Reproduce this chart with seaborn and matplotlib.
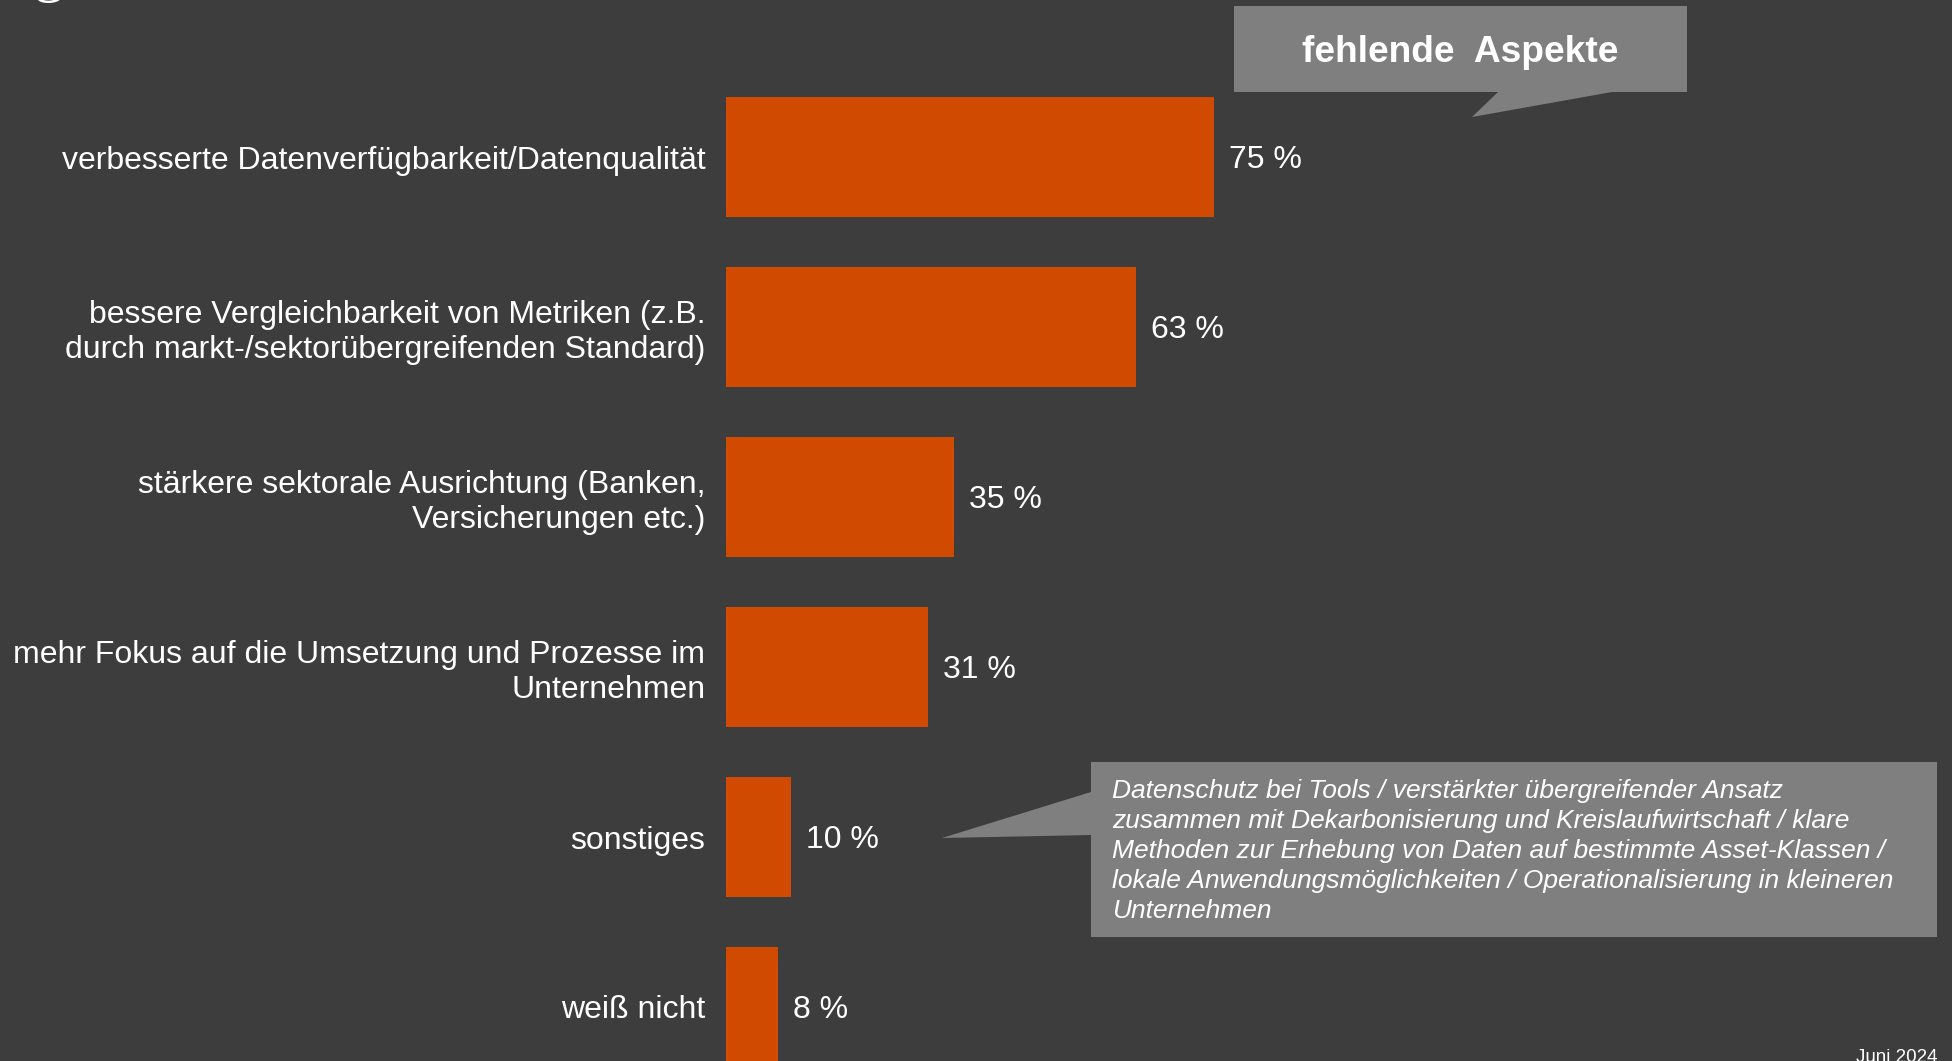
import matplotlib
matplotlib.use("Agg")
import matplotlib.pyplot as plt
import seaborn as sns
import pandas as pd
from matplotlib.patches import Polygon

categories = [
    "verbesserte Datenverfügbarkeit/Datenqualität",
    "bessere Vergleichbarkeit von Metriken (z.B.\ndurch markt-/sektorübergreifenden Standard)",
    "stärkere sektorale Ausrichtung (Banken,\nVersicherungen etc.)",
    "mehr Fokus auf die Umsetzung und Prozesse im\nUnternehmen",
    "sonstiges",
    "weiß nicht",
]
values = [75, 63, 35, 31, 10, 8]
value_labels = [f"{v} %" for v in values]

header_text = "fehlende  Aspekte"
callout_lines = [
    "Datenschutz bei Tools / verstärkter übergreifender Ansatz",
    "zusammen mit Dekarbonisierung und Kreislaufwirtschaft / klare",
    "Methoden zur Erhebung von Daten auf bestimmte Asset-Klassen /",
    "lokale Anwendungsmöglichkeiten / Operationalisierung in kleineren",
    "Unternehmen",
]
date_text = "Juni 2024"

BG = "#3d3d3d"
BAR = "#d04a02"
BOX = "#7f7f7f"
W, H = 1952, 1061

sns.set_theme(style="dark")
plt.rcParams["font.family"] = ["Liberation Sans", "DejaVu Sans"]

fig = plt.figure(figsize=(W / 100, H / 100), dpi=100, facecolor=BG)

# bar axes: value 0 at x=726px, 6.5 px per percent
x0 = 726
ax = fig.add_axes([x0 / W, 0, (W - x0) / W, 1])
ax.set_facecolor("none")
df = pd.DataFrame({"cat": categories, "val": values})
sns.barplot(data=df, x="val", y="cat", orient="h", color=BAR, saturation=1,
            width=120 / 170, linewidth=0, edgecolor="none", ax=ax)
ax.set_xlim(0, (W - x0) / 6.5)
ax.set_ylim((H - 157) / 170, -157 / 170)
ax.set_xlabel("")
ax.set_ylabel("")
ax.set_xticks([])
for s in ax.spines.values():
    s.set_visible(False)
ax.tick_params(axis="y", length=0, pad=15, labelsize=23, labelcolor="white")
ax.grid(False)
lbls = ax.bar_label(ax.containers[0], labels=value_labels, padding=11,
                    color="white", fontsize=23)
for t in lbls:
    t.set_va("center_baseline")

# overlay axes in pixel coordinates for callouts
ov = fig.add_axes([0, 0, 1, 1])
ov.set_xlim(0, W)
ov.set_ylim(H, 0)
ov.axis("off")
ov.set_facecolor("none")

p1 = Polygon([(1234, 6), (1687, 6), (1687, 92), (1612, 92), (1472, 117),
              (1498, 92), (1234, 92)], closed=True, facecolor=BOX, edgecolor="none")
ov.add_patch(p1)
ov.text(1460, 53, header_text, ha="center", va="center", color="white",
        fontsize=26.7, fontweight="bold")

p2 = Polygon([(1091, 762), (1937, 762), (1937, 937), (1091, 937), (1091, 835),
              (942, 838), (1091, 792)], closed=True, facecolor=BOX, edgecolor="none")
ov.add_patch(p2)
ov.text(1112, 851, "\n".join(callout_lines), ha="left", va="center",
        color="white", fontsize=19, fontstyle="italic", linespacing=1.31)

ov.text(1937, 1049, date_text, ha="right", va="top", color="white", fontsize=13.5)
ov.text(33, -10, "g", ha="left", va="baseline", color="white", fontsize=44,
        family="Liberation Serif")

fig.savefig("out.png", dpi=100, facecolor=BG)
